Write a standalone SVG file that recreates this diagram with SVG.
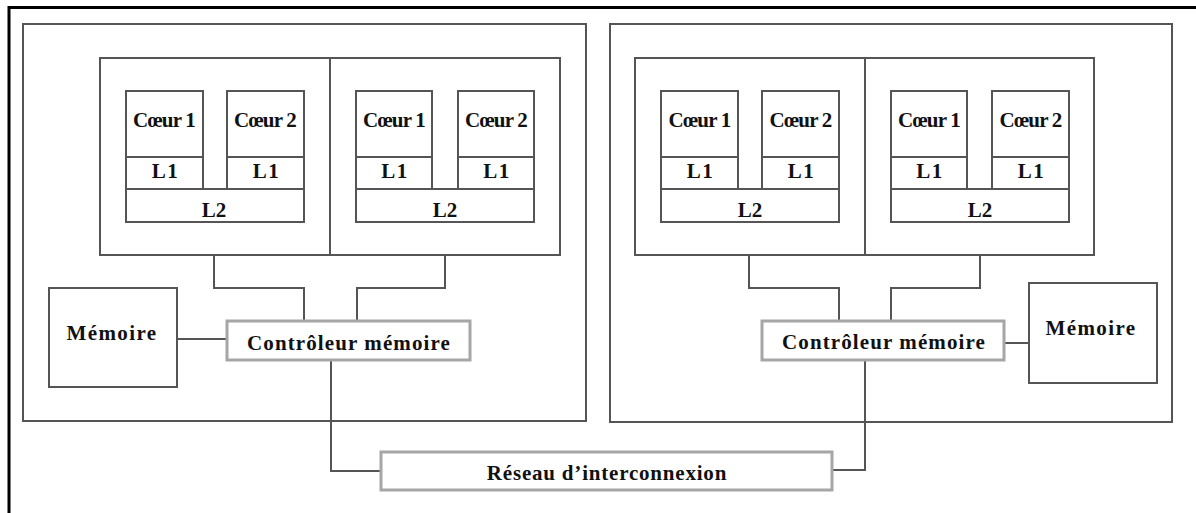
<svg xmlns="http://www.w3.org/2000/svg" width="1196" height="513" viewBox="0 0 1196 513">
<style>
.box{fill:#fff;stroke:#555;stroke-width:2}
.lbox{fill:#fff;stroke:#a6a6a6;stroke-width:3}
.ln{fill:none;stroke:#555;stroke-width:2}
text{font-family:"Liberation Serif","Times New Roman",serif;font-weight:bold;font-size:21px;fill:#111;text-anchor:middle}
.c{letter-spacing:-0.8px}
.sp{letter-spacing:1.1px}
.mem{letter-spacing:1.4px}
.net{letter-spacing:0.8px}
.l1{letter-spacing:1.5px}
</style>
<rect width="1196" height="513" fill="#fff"/>
<path d="M9,513 V7.5 H1196" fill="none" stroke="#000" stroke-width="3"/>

<g id="chipL">
<rect class="box" x="23" y="24" width="563" height="397"/>
<rect class="box" x="100" y="58" width="460" height="197"/>
<line class="ln" x1="330" y1="58" x2="330" y2="255"/>
</g>
<g id="chipR">
<rect class="box" x="610" y="24" width="562" height="398"/>
<rect class="box" x="635" y="58" width="459" height="197"/>
<line class="ln" x1="865" y1="58" x2="865" y2="255"/>
</g>

<g id="blockL1">
<rect class="box" x="126" y="91" width="77" height="98"/><line class="ln" x1="126" y1="157" x2="203" y2="157"/>
<rect class="box" x="227" y="91" width="77" height="98"/><line class="ln" x1="227" y1="157" x2="304" y2="157"/>
<rect class="box" x="126" y="189" width="178" height="33"/>
<text class="c" x="164" y="127">Cœur 1</text><text class="c" x="265" y="127">Cœur 2</text>
<text class="l1" x="165.5" y="178">L1</text><text class="l1" x="266.5" y="178">L1</text>
<text x="214" y="217">L2</text>
</g>
<g id="blockL2">
<rect class="box" x="356" y="91" width="76" height="98"/><line class="ln" x1="356" y1="157" x2="432" y2="157"/>
<rect class="box" x="458" y="91" width="76" height="98"/><line class="ln" x1="458" y1="157" x2="534" y2="157"/>
<rect class="box" x="356" y="189" width="178" height="33"/>
<text class="c" x="394" y="127">Cœur 1</text><text class="c" x="496" y="127">Cœur 2</text>
<text class="l1" x="395" y="178">L1</text><text class="l1" x="497" y="178">L1</text>
<text x="445" y="217">L2</text>
</g>
<g id="blockR1">
<rect class="box" x="661" y="91" width="77" height="98"/><line class="ln" x1="661" y1="157" x2="738" y2="157"/>
<rect class="box" x="762" y="91" width="77" height="98"/><line class="ln" x1="762" y1="157" x2="839" y2="157"/>
<rect class="box" x="661" y="189" width="178" height="33"/>
<text class="c" x="699.5" y="127">Cœur 1</text><text class="c" x="800.5" y="127">Cœur 2</text>
<text class="l1" x="700.5" y="178">L1</text><text class="l1" x="801.5" y="178">L1</text>
<text x="750" y="217">L2</text>
</g>
<g id="blockR2">
<rect class="box" x="891" y="91" width="76" height="98"/><line class="ln" x1="891" y1="157" x2="967" y2="157"/>
<rect class="box" x="992" y="91" width="77" height="98"/><line class="ln" x1="992" y1="157" x2="1069" y2="157"/>
<rect class="box" x="891" y="189" width="178" height="33"/>
<text class="c" x="929" y="127">Cœur 1</text><text class="c" x="1030.5" y="127">Cœur 2</text>
<text class="l1" x="930" y="178">L1</text><text class="l1" x="1031.5" y="178">L1</text>
<text x="980" y="217">L2</text>
</g>

<g id="connectors">
<path class="ln" d="M214,255 V288 H304 V321"/>
<path class="ln" d="M445,255 V288 H357 V321"/>
<path class="ln" d="M177,339 H227"/>
<path class="ln" d="M331,360 V471 H381"/>
<path class="ln" d="M749,255 V288 H839 V321"/>
<path class="ln" d="M980,255 V288 H891 V321"/>
<path class="ln" d="M1004,343 H1029"/>
<path class="ln" d="M865,360 V470 H832"/>
</g>

<g id="memL">
<rect class="box" x="49" y="288" width="128" height="99"/>
<text class="mem" x="112" y="340">Mémoire</text>
</g>
<g id="ctrlL">
<rect class="lbox" x="227" y="321" width="243" height="39"/>
<text class="sp" x="349" y="350">Contrôleur mémoire</text>
</g>
<g id="memR">
<rect class="box" x="1029" y="283" width="128" height="100"/>
<text class="mem" x="1091" y="335">Mémoire</text>
</g>
<g id="ctrlR">
<rect class="lbox" x="762" y="321" width="242" height="39"/>
<text class="sp" x="884" y="349">Contrôleur mémoire</text>
</g>
<g id="network">
<rect class="lbox" x="381" y="452" width="451" height="38"/>
<text class="net" x="607" y="480">Réseau d’interconnexion</text>
</g>
</svg>
